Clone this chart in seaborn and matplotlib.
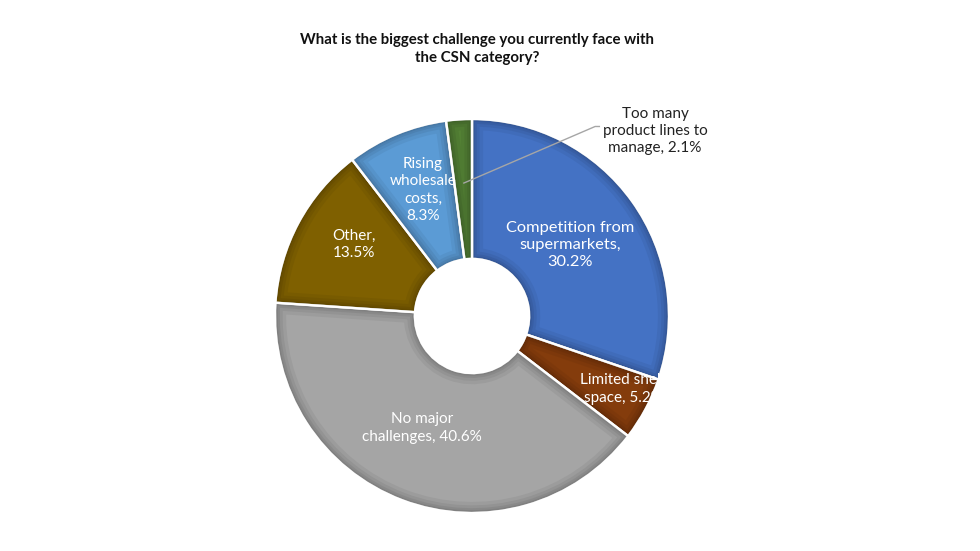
import numpy as np
import matplotlib
matplotlib.use("Agg")
import matplotlib.pyplot as plt
import matplotlib.colors as mcolors
from matplotlib.patches import Wedge
import seaborn as sns

# ---- data ----
categories = ["Competition from\nsupermarkets,", "Limited shelf\nspace,", "No major\nchallenges,",
              "Other,", "Rising\nwholesale\ncosts,", "Too many\nproduct lines to\nmanage,"]
values = [30.2, 5.2, 40.6, 13.5, 8.3, 2.1]
colors = ["#4472C4", "#843C0C", "#A5A5A5", "#7F6000", "#5B9BD5", "#548235"]
title = "What is the biggest challenge you currently face with\nthe CSN category?"

sns.set_theme(style="white")
plt.rcParams['font.family'] = ['Lato', 'DejaVu Sans']

fig = plt.figure(figsize=(9.8, 5.51), dpi=100)
fig.patch.set_facecolor("white")
cx, cy, r = 472, 316, 197
W, H = 980, 551
ax = fig.add_axes([(cx - r) / W, (H - cy - r) / H, 2 * r / W, 2 * r / H])

wedges, _ = ax.pie(values, colors=colors, startangle=90, counterclock=False,
                   radius=1.0,
                   wedgeprops=dict(width=0.71, edgecolor="white", linewidth=1.8))
ax.set_xlim(-1, 1)
ax.set_ylim(-1, 1)
ax.set_aspect("equal")
ax.axis("off")

# soft bevel-like shading along each wedge's border
for w, col in zip(wedges, colors):
    dark = tuple(np.array(mcolors.to_rgb(col)) * 0.5)
    for lw_, a_ in [(16, 0.10), (11, 0.12), (7, 0.14), (4, 0.16)]:
        bev = Wedge(w.center, w.r, w.theta1, w.theta2, width=w.width,
                    facecolor="none", edgecolor=dark, lw=lw_, alpha=a_,
                    joinstyle="miter")
        ax.add_patch(bev)
        bev.set_clip_path(w)
    sep = Wedge(w.center, w.r, w.theta1, w.theta2, width=w.width,
                facecolor="none", edgecolor="white", lw=1.6)
    ax.add_patch(sep)

# label layout
seps = ["\n", " ", " ", "\n", "\n", " "]
label_pos = [(0.500, 0.360), (0.767, -0.371), (-0.254, -0.569),
             (-0.599, 0.365), (-0.249, 0.640), (0.929, 0.939)]
sizes = [11.8, 11, 11, 11, 11, 11]
txtcol = ["white", "white", "white", "white", "white", "#222222"]
for lab, v, sep, (x, y), s, c in zip(categories, values, seps, label_pos, sizes, txtcol):
    ax.text(x, y, f"{lab}{sep}{v}%", ha="center", va="center", color=c,
            fontsize=s, linespacing=1.3, clip_on=False, zorder=5)

# leader line for smallest slice
g = wedges[-1]
ang = np.deg2rad((g.theta1 + g.theta2) / 2)
p0 = (0.675 * np.cos(ang), 0.675 * np.sin(ang))
ax.plot([p0[0], 0.625, 0.65], [p0[1], 0.962, 0.962], color="#A6A6A6", lw=1,
        clip_on=False, solid_capstyle="butt", zorder=5)

fig.text(477 / W, 1 - 49 / H, title, ha="center", va="center",
         fontsize=10.8, fontweight="bold", color="#111111", linespacing=1.3)

fig.savefig("out.png", dpi=100, facecolor="white")
